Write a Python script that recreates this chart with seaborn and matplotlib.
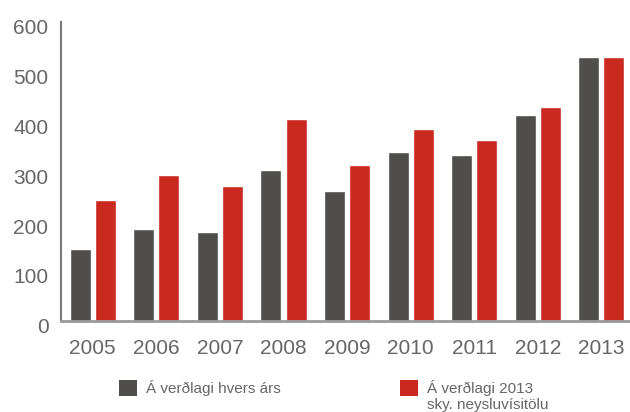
import matplotlib
matplotlib.use("Agg")
import matplotlib.pyplot as plt
import matplotlib.transforms as mtransforms
import seaborn as sns
import pandas as pd
from matplotlib.patches import Patch

years = ["2005", "2006", "2007", "2008", "2009", "2010", "2011", "2012", "2013"]
nominal = [144, 184, 178, 303, 261, 339, 333, 413, 529]
real_2013 = [243, 293, 271, 405, 313, 385, 363, 429, 529]
series_names = ["Á verðlagi hvers árs", "Á verðlagi 2013"]
series_note = "sky. neysluvísitölu"
colors = ["#4f4e4c", "#c9291f"]

df = pd.DataFrame({
    "year": years * 2,
    "value": nominal + real_2013,
    "series": [series_names[0]] * len(years) + [series_names[1]] * len(years),
})

sns.set_theme(style="white")
plt.rcParams["font.family"] = ["Liberation Sans", "DejaVu Sans"]
text_color = "#666666"

fig = plt.figure(figsize=(6.3, 4.12), dpi=100)
ax = fig.add_axes([0.0968, 0.2209, 0.9032, 0.7265])

sns.barplot(data=df, x="year", y="value", hue="series", palette=colors,
            width=0.79, gap=0.16, saturation=1, ax=ax, legend=False)

ax.set_ylim(0, 600)
ax.set_xlim(-0.5, 8.45)
ax.set_yticks(range(0, 601, 100))
ax.set_xlabel("")
ax.set_ylabel("")
ax.tick_params(axis="both", length=0, labelsize=15, labelcolor=text_color)
ax.tick_params(axis="y", pad=9)
ax.tick_params(axis="x", pad=13)

# y labels sit a little below their gridline level in the original
shift = mtransforms.ScaledTranslation(0, -3.5 / 72, fig.dpi_scale_trans)
for lab in ax.get_yticklabels():
    lab.set_transform(lab.get_transform() + shift)

for side in ["top", "right"]:
    ax.spines[side].set_visible(False)
ax.spines["left"].set_color("#7a7a7a")
ax.spines["left"].set_linewidth(1.5)
ax.spines["bottom"].set_color("#999999")
ax.spines["bottom"].set_linewidth(2)

handles = [Patch(facecolor=c, edgecolor="none") for c in colors]
leg = fig.legend(handles, series_names, loc="upper left",
                 bbox_to_anchor=(0.167, 0.111), ncol=2, frameon=False,
                 fontsize=11, handlelength=1.2, handleheight=1.2,
                 handletextpad=0.6, columnspacing=7.75, labelcolor=text_color)

# second line of the red entry, placed under its first line
fig.canvas.draw()
bb = leg.get_texts()[1].get_window_extent().transformed(fig.transFigure.inverted())
fig.text(bb.x0, bb.y0 - 0.006, series_note, fontsize=11, color=text_color,
         ha="left", va="top")

fig.savefig("out.png", dpi=100)
